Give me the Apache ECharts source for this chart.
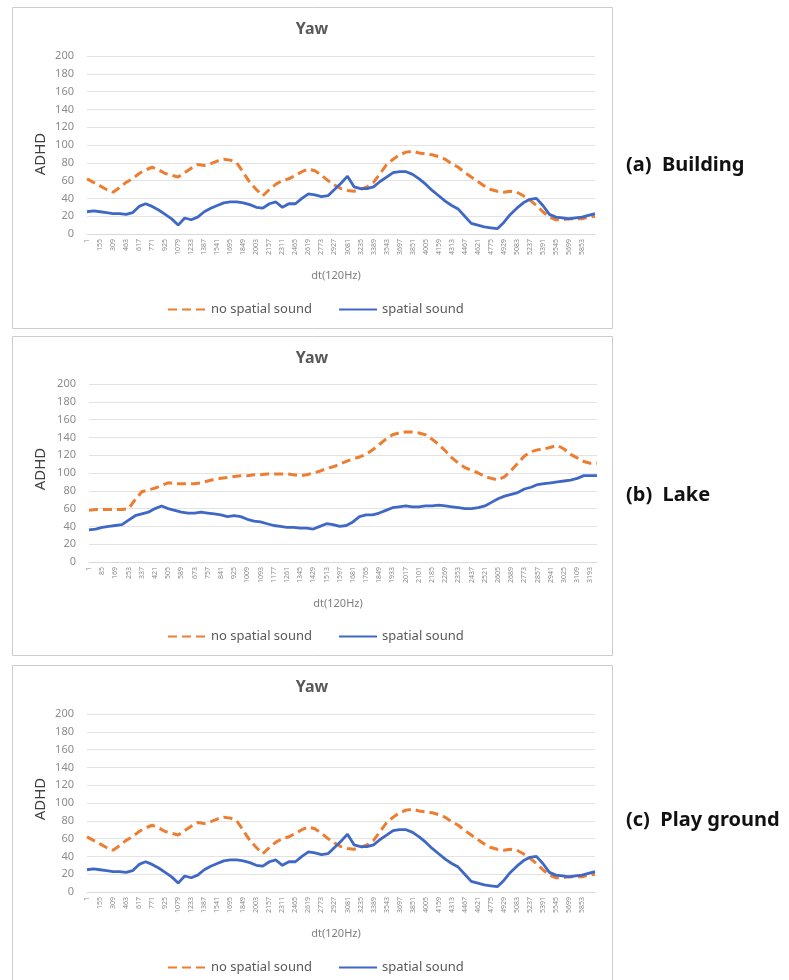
<!DOCTYPE html>
<html>
<head>
<meta charset="utf-8">
<script src="https://cdn.jsdelivr.net/npm/echarts@6/dist/echarts.min.js"></script>
<style>
  html, body { margin: 0; padding: 0; background: #ffffff; }
  #chart { width: 789px; height: 980px; }
</style>
</head>
<body>
<div id="chart"></div>
<script>
// Sample index spacing of the category points (120 Hz frames)
const buildingStep = 77;   // tick labels every 154 frames
const buildingCount = 79;
const lakeStep = 42;       // tick labels every 84 frames
const lakeCount = 78;

// Yaw ADHD, Building scene
const buildingNoSpatial = [
  62, 58, 54, 50, 47, 52, 58, 62, 68, 72,
  75, 72, 68, 66, 64, 69, 74, 78, 77, 79,
  82, 84, 83, 80, 69, 58, 50, 43, 50, 56,
  60, 62, 66, 70, 73, 71, 66, 60, 55, 51,
  49, 48, 50, 53, 58, 68, 78, 84, 89, 92,
  93, 91, 90, 89, 87, 84, 79, 75, 69, 64,
  59, 54, 50, 48, 47, 48, 47, 43, 38, 32,
  25, 19, 16, 16, 17, 17, 17, 19, 20
];
const buildingSpatial = [
  25, 26, 25, 24, 23, 23, 22, 24, 31, 34,
  31, 27, 22, 17, 10, 18, 16, 19, 25, 29,
  32, 35, 36, 36, 35, 33, 30, 29, 34, 36,
  30, 34, 34, 40, 45, 44, 42, 43, 50, 57,
  65, 53, 51, 51, 53, 59, 64, 69, 70, 70,
  67, 62, 56, 49, 43, 37, 32, 28, 20, 12,
  10, 8, 7, 6, 13, 22, 29, 35, 39, 40,
  32, 22, 19, 18, 17, 18, 19, 21, 23
];

// Yaw ADHD, Lake scene
const lakeNoSpatial = [
  58, 59, 59, 59, 59, 59, 60, 70, 79, 81,
  83, 86, 89, 88, 88, 88, 88, 89, 91, 93,
  94, 95, 96, 97, 97, 98, 98, 99, 99, 99,
  99, 98, 97, 98, 100, 102, 105, 107, 110, 113,
  116, 118, 121, 126, 132, 138, 143, 145, 146, 146,
  145, 143, 138, 132, 125, 117, 111, 106, 103, 100,
  96, 94, 92, 96, 103, 111, 119, 124, 126, 127,
  129, 131, 127, 121, 117, 113, 111, 111
];
const lakeSpatial = [
  36, 37, 39, 40, 41, 42, 47, 52, 54, 56,
  60, 63, 60, 58, 56, 55, 55, 56, 55, 54,
  53, 51, 52, 51, 48, 46, 45, 43, 41, 40,
  39, 39, 38, 38, 37, 40, 43, 42, 40, 41,
  45, 51, 53, 53, 55, 58, 61, 62, 63, 62,
  62, 63, 63, 64, 63, 62, 61, 60, 60, 61,
  63, 67, 71, 74, 76, 78, 82, 84, 87, 88,
  89, 90, 91, 92, 94, 97, 97, 97
];

// Playground scene records the same yaw values as the Building scene
const playNoSpatial = buildingNoSpatial;
const playSpatial = buildingSpatial;

const seriesNames = ['no spatial sound', 'spatial sound'];
const panelCaptions = ['(a)  Building', '(b)  Lake', '(c)  Play ground'];
const chartTitle = 'Yaw';
const yAxisTitle = 'ADHD';
const xAxisTitle = 'dt(120Hz)';

function frameCategories(step, count) {
  const out = [];
  for (let i = 0; i < count; i++) out.push(String(1 + step * i));
  return out;
}
const buildingCats = frameCategories(buildingStep, buildingCount);
const lakeCats = frameCategories(lakeStep, lakeCount);

const panels = [
  { gridLeft: 87, gridTop: 56, boxTop: 7, boxH: 321, titleY: 29, legendTop: 298, captionY: 165, yNameY: 154,
    cats: buildingCats, lastLabel: 76, no: buildingNoSpatial, sp: buildingSpatial },
  { gridLeft: 89, gridTop: 384, boxTop: 336, boxH: 319, titleY: 358, legendTop: 625, captionY: 495, yNameY: 469,
    cats: lakeCats, lastLabel: 76, no: lakeNoSpatial, sp: lakeSpatial },
  { gridLeft: 87, gridTop: 714, boxTop: 665, boxH: 330, titleY: 687, legendTop: 956, captionY: 820, yNameY: 799,
    cats: buildingCats, lastLabel: 76, no: playNoSpatial, sp: playSpatial }
];

const ORANGE = '#ED7D31';
const BLUE = '#3F68C6';
const FONT = '"Noto Sans", sans-serif';

const option = {
  animation: false,
  backgroundColor: '#ffffff',
  textStyle: { fontFamily: FONT },
  grid: [], xAxis: [], yAxis: [], series: [], legend: [], graphic: []
};

panels.forEach((p, k) => {
  option.grid.push({ left: p.gridLeft, top: p.gridTop, width: 508, height: 178, containLabel: false });
  option.xAxis.push({
    type: 'category', gridIndex: k, data: p.cats, boundaryGap: false,
    name: xAxisTitle, nameLocation: 'middle', nameGap: 36,
    nameTextStyle: { fontSize: 11, color: '#7f7f7f', fontFamily: FONT, padding: [0, 10, 0, 0] },
    axisLine: { lineStyle: { color: '#d9d9d9' } },
    axisTick: { show: false },
    axisLabel: {
      rotate: 90, fontSize: 7, color: '#8c8c8c', margin: 5,
      interval: (idx) => idx % 2 === 0 && idx <= p.lastLabel
    },
    splitLine: { show: false }
  });
  option.yAxis.push({
    type: 'value', gridIndex: k, min: 0, max: 200, interval: 20,
    axisLine: { show: false }, axisTick: { show: false },
    axisLabel: { fontSize: 11, color: '#8c8c8c', margin: 13 },
    splitLine: { lineStyle: { color: '#e3e3e3', width: 1 } }
  });
  option.series.push({
    name: seriesNames[0], type: 'line', xAxisIndex: k, yAxisIndex: k, data: p.no,
    symbol: 'none', lineStyle: { color: ORANGE, width: 3, type: [9, 5] },
    itemStyle: { color: ORANGE }
  });
  option.series.push({
    name: seriesNames[1], type: 'line', xAxisIndex: k, yAxisIndex: k, data: p.sp,
    symbol: 'none', lineStyle: { color: BLUE, width: 2.8 },
    itemStyle: { color: BLUE }
  });
  option.legend.push({
    data: seriesNames, top: p.legendTop, left: 162,
    itemWidth: 38, itemHeight: 14, itemGap: 26,
    itemStyle: { opacity: 0, color: 'transparent', borderColor: 'transparent', borderWidth: 0 },
    textStyle: { fontSize: 13, color: '#595959', fontFamily: FONT }
  });
  // panel frame
  option.graphic.push({
    type: 'rect', z: -10,
    shape: { x: 12.5, y: p.boxTop + 0.5, width: 600, height: p.boxH },
    style: { fill: 'transparent', stroke: '#cccccc', lineWidth: 1 }
  });
  // chart title
  option.graphic.push({
    type: 'text', x: 312, y: p.titleY,
    style: { text: chartTitle, fill: '#595959',
             font: 'bold 16px ' + FONT, textAlign: 'center', textVerticalAlign: 'middle' }
  });
  // vertical axis title
  option.graphic.push({
    type: 'text', x: 41, y: p.yNameY, rotation: Math.PI / 2,
    style: { text: yAxisTitle, fill: '#404040',
             font: '15px ' + FONT, textAlign: 'center', textVerticalAlign: 'middle' }
  });
  // panel caption on the right
  option.graphic.push({
    type: 'text', x: 626, y: p.captionY,
    style: { text: panelCaptions[k], fill: '#111111',
             font: 'bold 20px ' + FONT, textAlign: 'left', textVerticalAlign: 'middle' }
  });
});

const chart = echarts.init(document.getElementById('chart'), null, { renderer: 'canvas' });
chart.setOption(option);
</script>
</body>
</html>
